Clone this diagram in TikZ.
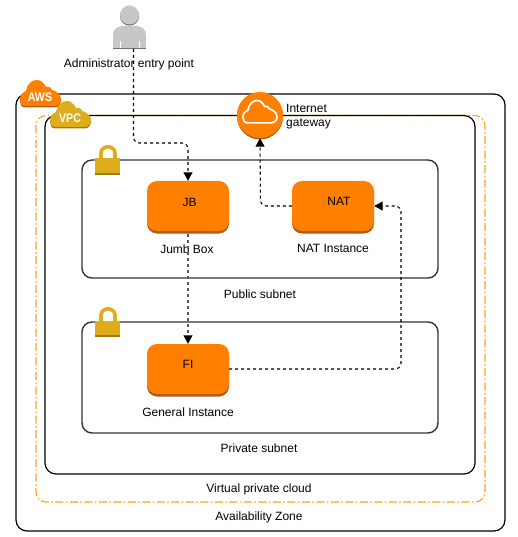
\documentclass[tikz,border=0pt]{standalone}
\usepackage{fontspec}
\setmainfont{Liberation Sans}
\usetikzlibrary{arrows.meta,positioning,shadows}

\definecolor{awsorange}{HTML}{FF8000}
\definecolor{awsdark}{HTML}{B25A14}
\definecolor{awsgold}{HTML}{DFAC1B}
\definecolor{golddark}{HTML}{9C7A14}
\definecolor{zoneorange}{HTML}{FFA310}
\definecolor{adminlight}{HTML}{C6C7C9}
\definecolor{admindark}{HTML}{6F7073}

\newcommand{\cloudpath}{(5,26) .. controls (1,26) and (0,22) .. (0,19) .. controls (0,15) and (3,12) .. (6,11) .. controls (7,4) and (12,0) .. (17,0) .. controls (21,0) and (24,3) .. (26,7) .. controls (28,6) and (31,7) .. (32,10) .. controls (37,11) and (41,15) .. (41,19) .. controls (41,23) and (38,26) .. (35,26) -- cycle}

\tikzset{
  outerbox/.style={draw=black, line width=1.2pt, rounded corners=11pt},
  subnetbox/.style={draw=black!80, line width=1.4pt, rounded corners=10pt},
  instance/.style={rectangle, fill=awsorange, rounded corners=10pt, minimum width=82pt, minimum height=50pt, inner sep=0pt,
    drop shadow={shadow xshift=0pt, shadow yshift=-2.5pt, fill=awsdark, opacity=1}},
  gateway/.style={circle, fill=awsorange, minimum size=46pt, inner sep=0pt,
    drop shadow={shadow xshift=0pt, shadow yshift=-1.5pt, fill=awsdark, opacity=1}},
  flow/.style={draw=black, line width=1.1pt, dash pattern=on 3pt off 3pt, rounded corners=6pt, -{Triangle[length=8.5pt,width=9pt,color=black]}},
  caption/.style={font=\fontsize{12}{14}\selectfont, inner sep=0pt},
  cloudtext/.style={font=\fontsize{12.5}{14}\selectfont\bfseries, text=white, inner sep=0pt, xscale=0.85},
}

\begin{document}
\begin{tikzpicture}[x=1pt, y=-1pt]

\useasboundingbox (0,0) rectangle (518,537);

% Boxes
\draw[zoneorange, line width=1.1pt, dash pattern=on 8pt off 2.5pt on 1.5pt off 2.5pt, rounded corners=10pt] (36,115.5) rectangle (485,502);
\draw[outerbox] (16,94) rectangle (505,531);
\draw[outerbox] (45,115.5) rectangle (475,474);
\draw[subnetbox] (82,160) rectangle (438,278);
\draw[subnetbox] (82,322) rectangle (438,433);

% Cloud badges
\fill[awsdark, shift={(20,81.5)}] \cloudpath;
\fill[awsorange, shift={(20,80)}] \cloudpath;
\node[cloudtext] (awsLabel) at (40,97) {AWS};
\fill[golddark, shift={(50,102.5)}] \cloudpath;
\fill[awsgold, shift={(50,101)}] \cloudpath;
\node[cloudtext] (vpcLabel) at (70,118.5) {VPC};

% Locks
\foreach \ly in {145,307} {
  \draw[awsgold, line width=3.6pt] (101,\ly+16) -- (101,\ly+8) arc[start angle=180, end angle=0, x radius=7, y radius=-6.2] -- (115,\ly+16);
  \fill[golddark] (95,\ly+24) rectangle (120,\ly+30);
  \fill[awsgold] (95,\ly+13.5) rectangle (120,\ly+28);
}

% Administrator
\node (adminHead) at (129.5,15) [circle, fill=adminlight, minimum size=19pt, inner sep=0pt, drop shadow={shadow xshift=0pt, shadow yshift=-1.2pt, fill=admindark, opacity=1}] {};
\fill[adminlight] (113,49) -- (113,35) .. controls (113,29) and (117,27) .. (122,26) -- (137,26) .. controls (142,27) and (146,29) .. (146,35) -- (146,49) -- cycle;
\fill[admindark] (113,48) rectangle (146,49.5);
\draw[white, line width=0.5pt] (120,41) -- (120,48) (139,41) -- (139,48);
\coordinate (adminFoot) at (133.5,49);
\node[caption] (adminLabel) at (129,64) {Administrator entry point};

% Instances
\node[instance] (JB) at (188,206) {};
\node[caption] (JBLabel) at (189.5,202.5) {JB};
\node[caption] (JBText) at (187,249) {Jumb Box};

\node[instance] (NAT) at (333,206) {};
\node[caption] (NATLabel) at (339,201.5) {NAT};
\node[caption] (NATText) at (333,248) {NAT Instance};

\node[instance] (FI) at (188,369) {};
\node[caption] (FILabel) at (188,364.5) {FI};
\node[caption] (FIText) at (188,412) {General Instance};

% Gateway
\node[gateway] (IGW) at (260,115) {};
\draw[white, line width=1.7pt, shift={(243,100.5)}, x=0.83pt, y=-0.86pt] \cloudpath;
\node[caption, align=left, anchor=north west, font=\fontsize{12}{14}\selectfont] (IGWLabel) at (286,104) {Internet\\gateway};

% Subnet and zone captions
\node[caption] (publicLabel) at (260,294) {Public subnet};
\node[caption] (privateLabel) at (259,448) {Private subnet};
\node[caption] (vpcText) at (259,489) {Virtual private cloud};
\node[caption] (zoneText) at (259,517.5) {Availability Zone};

% Connectors
\draw[flow] (adminFoot) -- (133.5,143) -- (188,143) -- (JB.north);
\draw[flow, draw=black!65] (JB.south) ++(0,2.5) -- (FI.north);
\draw[flow] (NAT.west) -- (260.5,206) -- (IGW.south);
\draw[flow] (FI.east) -- (401,369) -- (401,206) -- (NAT.east);

\end{tikzpicture}
\end{document}
